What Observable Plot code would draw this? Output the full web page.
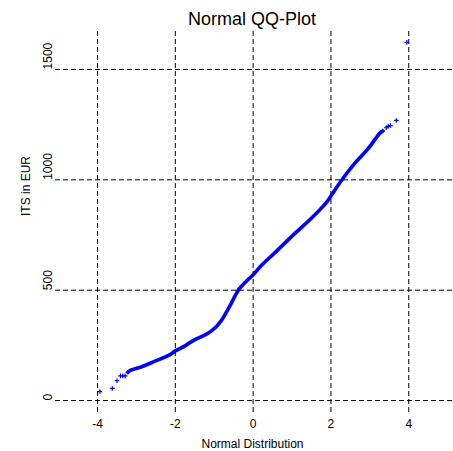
<!DOCTYPE html>
<html>
<head>
<meta charset="utf-8">
<script src="https://cdn.jsdelivr.net/npm/d3@7"></script>
<script src="https://cdn.jsdelivr.net/npm/@observablehq/plot@0.6"></script>
<style>
  html, body { margin: 0; padding: 0; background: white; }
  #title { margin-left: 51px; width: 402px; height: 28px; box-sizing: border-box; padding-top: 10px;
           font: 18px "Liberation Sans", Arial, sans-serif; line-height: 18px; text-align: center; color: #000; }
  #chart svg { display: block; }
</style>
</head>
<body>
<div id="title">Normal QQ-Plot</div>
<div id="chart"></div>
<script>
// Tick positions and labels
const xTicks = [-4, -2, 0, 2, 4];
const xTickLabels = ["-4", "-2", "0", "2", "4"];
const yTicks = [0, 500, 1000, 1500];
const yTickLabels = ["0", "500", "1000", "1500"];

// QQ points: theoretical normal quantile vs. sample value (EUR)
const theoretical = [-3.94, -3.62, -3.50, -3.41, -3.35, -3.29, -3.22, -3.16, -3.01, -2.80, -2.58, -2.15, -2.00, -1.74, -1.51, -1.30, -1.16, -1.04, -0.92, -0.82, -0.74, -0.57, -0.39, -0.18, 0.00, 0.21, 0.59, 1.06, 1.49, 1.88, 2.00, 2.26, 2.60, 2.95, 3.27, 3.33, 3.42, 3.47, 3.53, 3.68, 3.95];
const sample =      [  41,    55,    90,   112,   112,   112,   128,   137,   145,   158,   174,   207,   225,   249,   275,   292,   305,   320,   340,   362,   384,   438,   498,   540,  570,  612,  675,  755,  825,  897,  927,  995, 1072, 1140, 1214, 1221, 1236, 1242, 1246, 1269, 1623];

const points = theoretical.map((t, i) => ({t, v: sample[i]}));
const dense = points.filter(d => d.t >= -3.22 && d.t <= 3.33);
const sparse = points.filter(d => d.t < -3.2 || d.t > 3.3);

const font = "'Liberation Sans', Arial, sans-serif";

const chart = Plot.plot({
  width: 453,
  height: 423,
  marginLeft: 55,
  marginRight: 0,
  marginTop: 3,
  marginBottom: 39,
  x: {domain: [-5.08, 5.15], axis: null},
  y: {domain: [-54, 1672], axis: null},
  style: {fontFamily: font, background: "white", color: "black"},
  marks: [
    Plot.ruleX(xTicks, {stroke: "black", strokeWidth: 1, strokeDasharray: "5,3"}),
    Plot.ruleY(yTicks, {stroke: "black", strokeWidth: 1, strokeDasharray: "5,3"}),
    Plot.line(dense, {x: "t", y: "v", curve: "catmull-rom", stroke: "#0000ff", strokeWidth: 3.6, strokeLinejoin: "round", strokeLinecap: "round"}),
    Plot.dot(sparse, {x: "t", y: "v", symbol: "plus", r: 1.6, stroke: "#0000ff", strokeWidth: 1.2}),
    Plot.text(xTicks, {x: d => d, text: (d, i) => xTickLabels[i], frameAnchor: "bottom", lineAnchor: "top", dy: 7, fontSize: 12, fill: "black"}),
    Plot.text(yTicks, {y: d => d, text: (d, i) => yTickLabels[i], frameAnchor: "left", rotate: -90, lineAnchor: "bottom", dx: -4, fontSize: 12, fill: "black"}),
    Plot.text(["ITS in EUR"], {text: d => d, frameAnchor: "left", rotate: -90, lineAnchor: "bottom", dx: -26, dy: -6, fontSize: 12, fill: "black"}),
    Plot.text(["Normal Distribution"], {text: d => d, frameAnchor: "bottom", lineAnchor: "bottom", dy: 35.5, dx: -2, fontSize: 12, fill: "black"})
  ]
});
document.getElementById("chart").appendChild(chart);
</script>
</body>
</html>
